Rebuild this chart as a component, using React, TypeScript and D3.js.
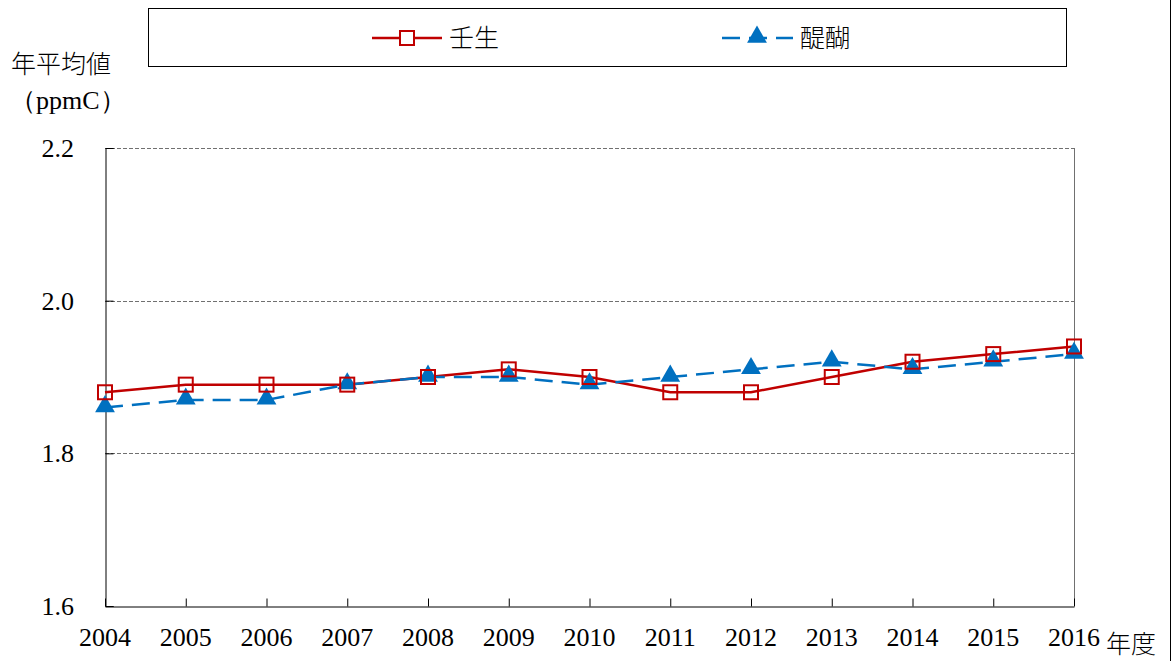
import React, { useEffect, useRef } from 'react';
import * as d3 from 'd3';

const years = ['2004', '2005', '2006', '2007', '2008', '2009', '2010', '2011', '2012', '2013', '2014', '2015', '2016'];
const mibu = [1.88, 1.89, 1.89, 1.89, 1.90, 1.91, 1.90, 1.88, 1.88, 1.90, 1.92, 1.93, 1.94];
const daigo = [1.86, 1.87, 1.87, 1.89, 1.90, 1.90, 1.89, 1.90, 1.91, 1.92, 1.91, 1.92, 1.93];
const yTicks = [1.6, 1.8, 2.0, 2.2];

const RED = '#C00000';
const BLUE = '#0070C0';
const serif = '"Liberation Serif", "DejaVu Serif", serif';
const cjk = '"Noto Sans CJK JP", "Noto Sans", sans-serif';

function App() {
  const ref = useRef<SVGSVGElement>(null);

  useEffect(() => {
    const svg = d3.select(ref.current);
    svg.selectAll('*').remove();

    const left = 105, right = 1074, top = 148, bottom = 606;

    const x = d3.scalePoint().domain(years).range([left, right]);
    const y = d3.scaleLinear().domain([1.6, 2.2]).range([bottom, top]);

    // outer frame line at right
    svg.append('line')
      .attr('x1', 1170.5).attr('x2', 1170.5).attr('y1', 0).attr('y2', 661)
      .attr('stroke', '#000').attr('stroke-width', 1);

    // gridlines
    svg.append('g')
      .selectAll('line')
      .data(yTicks.filter(d => d > 1.6))
      .join('line')
        .attr('x1', left).attr('x2', right)
        .attr('y1', d => Math.round(y(d)) + 0.5).attr('y2', d => Math.round(y(d)) + 0.5)
        .attr('stroke', '#707070').attr('stroke-width', 1).attr('stroke-dasharray', '4,2');

    // right plot border
    svg.append('line')
      .attr('x1', right + 0.5).attr('x2', right + 0.5).attr('y1', top).attr('y2', bottom)
      .attr('stroke', '#707070').attr('stroke-width', 1);

    // y axis
    const yAxis = svg.append('g')
      .attr('transform', `translate(${left + 0.5},0)`)
      .call(d3.axisRight(y).tickValues(yTicks).tickSize(8).tickFormat(() => ''));
    yAxis.select('.domain').attr('stroke', '#000');
    yAxis.selectAll('.tick line').attr('stroke', '#000');

    svg.append('g')
      .selectAll('text')
      .data(yTicks)
      .join('text')
        .attr('x', 74).attr('y', d => y(d))
        .attr('dy', '0.35em')
        .attr('text-anchor', 'end')
        .attr('font-family', serif).attr('font-size', 26)
        .text(d => d.toFixed(1));

    // x axis
    const xAxis = svg.append('g')
      .attr('transform', `translate(0,${bottom + 0.5})`)
      .call(d3.axisTop(x).tickSize(8).tickSizeOuter(0).tickFormat(() => ''));
    xAxis.select('.domain').attr('stroke', '#000');
    xAxis.selectAll('.tick line').attr('stroke', '#000');

    svg.append('g')
      .selectAll('text')
      .data(years)
      .join('text')
        .attr('x', d => x(d)!).attr('y', 646)
        .attr('text-anchor', 'middle')
        .attr('font-family', serif).attr('font-size', 26)
        .text(d => d);

    svg.append('text')
      .attr('x', 1106).attr('y', 653)
      .attr('font-family', cjk).attr('font-weight', 300).attr('font-size', 25)
      .text('年度');

    // y title
    svg.append('text')
      .attr('x', 11).attr('y', 73)
      .attr('font-family', cjk).attr('font-weight', 300).attr('font-size', 25)
      .text('年平均値');
    svg.append('text')
      .attr('x', 10).attr('y', 109)
      .attr('font-family', serif).attr('font-size', 26)
      .text('（ppmC）');

    const line = d3.line<number>()
      .x((_, i) => x(years[i])!)
      .y(d => y(d));

    svg.append('path')
      .datum(mibu)
      .attr('d', line)
      .attr('fill', 'none').attr('stroke', RED).attr('stroke-width', 2.5);

    svg.append('path')
      .datum(daigo)
      .attr('d', line)
      .attr('fill', 'none').attr('stroke', BLUE).attr('stroke-width', 2.5)
      .attr('stroke-dasharray', '18,9');

    const tri = d3.symbol().type(d3.symbolTriangle).size(170);

    svg.append('g')
      .selectAll('path')
      .data(daigo)
      .join('path')
        .attr('transform', (d, i) => `translate(${x(years[i])},${y(d) - 1})`)
        .attr('d', tri)
        .attr('fill', BLUE);

    svg.append('g')
      .selectAll('rect')
      .data(mibu)
      .join('rect')
        .attr('x', (d, i) => x(years[i])! - 7).attr('y', d => y(d) - 7)
        .attr('width', 14).attr('height', 14)
        .attr('fill', 'none').attr('stroke', RED).attr('stroke-width', 2);

    // legend
    const lg = svg.append('g');
    lg.append('rect')
      .attr('x', 148.5).attr('y', 8.5).attr('width', 918).attr('height', 58)
      .attr('fill', 'none').attr('stroke', '#000').attr('stroke-width', 1);

    lg.append('line')
      .attr('x1', 372).attr('x2', 442).attr('y1', 38).attr('y2', 38)
      .attr('stroke', RED).attr('stroke-width', 2.5);
    lg.append('rect')
      .attr('x', 400).attr('y', 31).attr('width', 14).attr('height', 14)
      .attr('fill', 'white').attr('stroke', RED).attr('stroke-width', 2);
    lg.append('text')
      .attr('x', 449).attr('y', 47)
      .attr('font-family', cjk).attr('font-weight', 300).attr('font-size', 25)
      .text('壬生');

    lg.append('line')
      .attr('x1', 722).attr('x2', 793).attr('y1', 38).attr('y2', 38)
      .attr('stroke', BLUE).attr('stroke-width', 2.5).attr('stroke-dasharray', '18,9');
    lg.append('path')
      .attr('transform', 'translate(757,37)')
      .attr('d', tri)
      .attr('fill', BLUE);
    lg.append('text')
      .attr('x', 800).attr('y', 47)
      .attr('font-family', cjk).attr('font-weight', 300).attr('font-size', 25)
      .text('醍醐');
  }, []);

  return (
    <svg ref={ref} width={1175} height={661}
      style={{ position: 'absolute', left: 0, top: 0, background: '#fff' }} />
  );
}

export default App;
